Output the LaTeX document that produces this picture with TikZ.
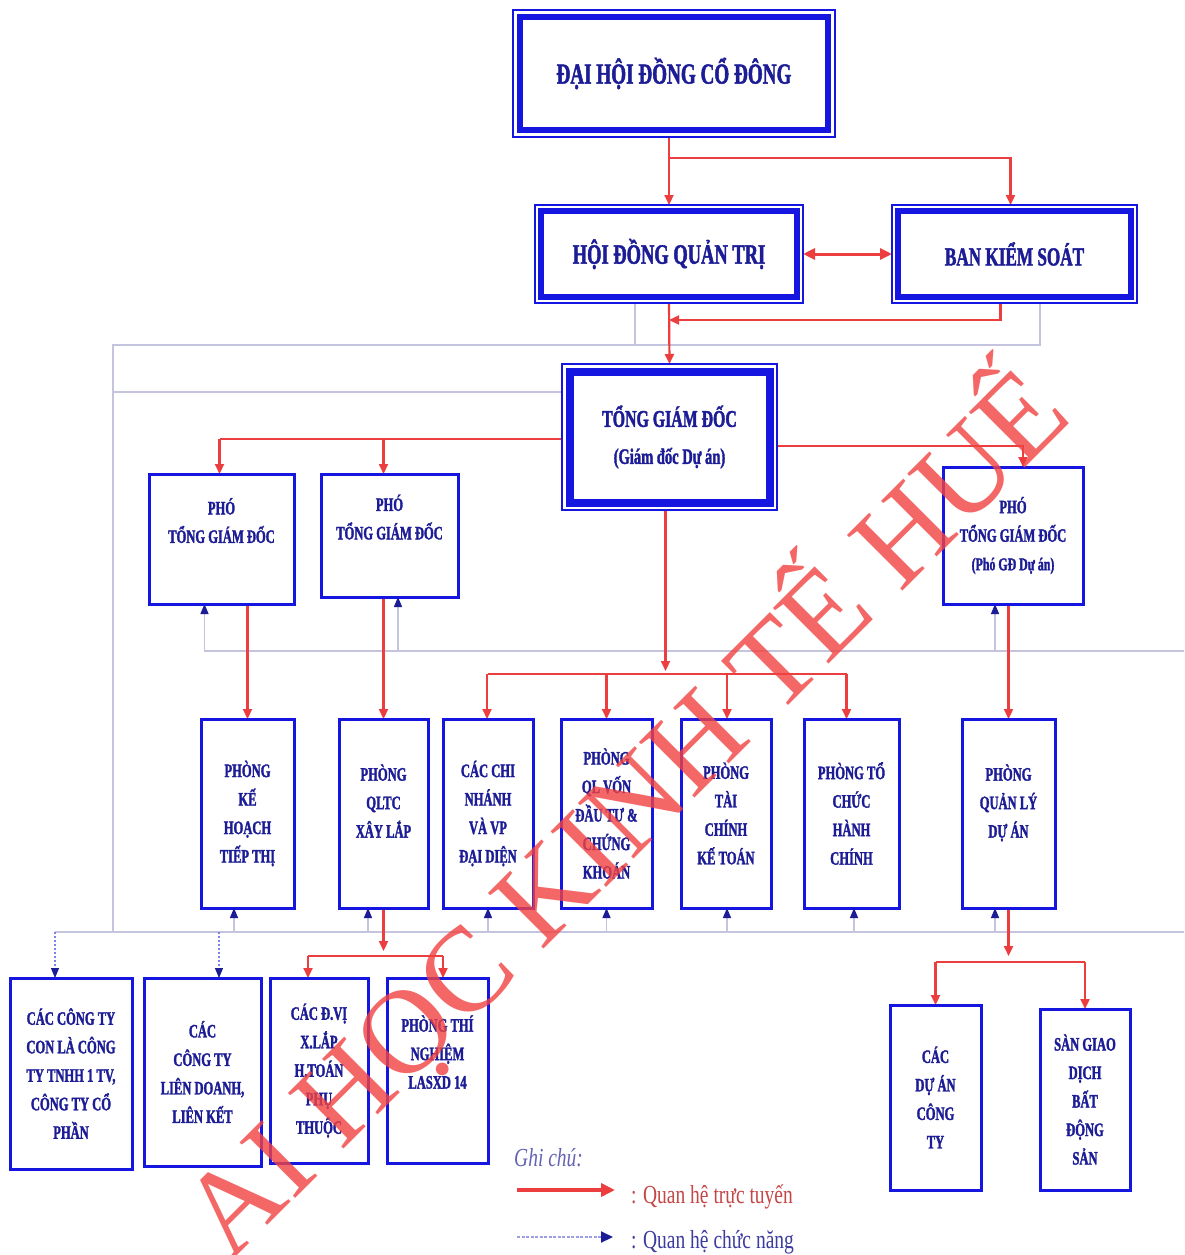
\documentclass[tikz,border=0pt]{standalone}
\usepackage{fontspec}
\setmainfont{Liberation Serif}
\newfontfamily\bxf{Liberation Serif}[BoldFont={Liberation Serif Bold},BoldFeatures={FakeBold=1.6},FakeStretch=0.66]
\newfontfamily\lgf{Liberation Serif}[FakeStretch=0.75]
\newfontfamily\wmf{Liberation Serif}
\usetikzlibrary{arrows.meta,calc}
\pgfdeclarelayer{background}
\pgfdeclarelayer{wmark}
\pgfsetlayers{background,main,wmark}
\definecolor{bxblue}{RGB}{22,22,225}
\definecolor{txblue}{RGB}{28,28,150}
\definecolor{rline}{RGB}{236,62,62}
\definecolor{gline}{RGB}{196,196,222}
\definecolor{wmred}{RGB}{242,66,66}
\definecolor{lgred}{RGB}{196,70,70}
\definecolor{lgblue}{RGB}{60,60,160}
\newcommand\innerframe[3]{\draw[draw=bxblue,line width=#3] ($(#1.north west)+(#2,#2)$) rectangle ($(#1.south east)+(-#2,-#2)$);}
\begin{document}
\begin{tikzpicture}[x=1pt,y=-1pt,
  box/.style={draw=bxblue,line width=3pt,fill=white,outer sep=0pt,inner sep=1pt,align=center,text=txblue,font=\bxf\bfseries\fontsize{19}{28.5}\selectfont},
  dbox/.style={box,line width=1.5pt},
  rl/.style={draw=rline,line width=2.2pt},
  ra/.style={rl,-{Triangle[length=10pt,width=9pt]}},
  gl/.style={draw=gline,line width=1.6pt},
  ba/.style={draw=gline,line width=1.3pt,-{Triangle[length=10pt,width=8pt,color=txblue]}},
  da/.style={draw=bxblue!55,line width=1.1pt,dash pattern=on 2pt off 2pt,-{Triangle[length=10pt,width=8pt,color=txblue]}},
]
\useasboundingbox (0,0) rectangle (1184,1255);

% top boxes
\node[dbox,minimum width=322pt,minimum height=127pt,font=\bxf\bfseries\fontsize{29}{34}\selectfont] (dh) at (674,73.5) {\raisebox{-4pt}{ĐẠI HỘI ĐỒNG CỔ ĐÔNG}};
\innerframe{dh}{7}{6}
\node[dbox,minimum width=268pt,minimum height=98pt,font=\bxf\bfseries\fontsize{28}{34}\selectfont] (hdqt) at (669,254) {HỘI ĐỒNG QUẢN TRỊ};
\innerframe{hdqt}{6}{6}
\node[dbox,minimum width=245pt,minimum height=98pt,font=\bxf\bfseries\fontsize{26}{32}\selectfont] (bks) at (1014.5,254) {\raisebox{-4pt}{BAN KIỂM SOÁT}};
\innerframe{bks}{6}{6}
\node[dbox,minimum width=215pt,minimum height=146pt,font=\bxf\bfseries\fontsize{24}{37}\selectfont] (tgd) at (669.5,437) {TỔNG GIÁM ĐỐC\\{\fontsize{22}{37}\selectfont(Giám đốc Dự án)}};
\innerframe{tgd}{7.5}{8}

% deputies
\node[box,minimum width=145pt,minimum height=130pt] (pho1) at (221.5,539) {PHÓ\\TỔNG GIÁM ĐỐC\\\strut};
\node[box,minimum width=137pt,minimum height=123pt] (pho2) at (389.5,535.5) {PHÓ\\TỔNG GIÁM ĐỐC\\\strut};
\node[box,minimum width=140pt,minimum height=137pt] (pho3) at (1013,535.5) {PHÓ\\TỔNG GIÁM ĐỐC\\{\fontsize{18}{28.5}\selectfont(Phó GĐ Dự án)}};

% middle row
\node[box,minimum width=93pt,minimum height=189pt] (kh) at (247.5,813.5) {PHÒNG\\KẾ\\HOẠCH\\TIẾP THỊ};
\node[box,minimum width=89pt,minimum height=189pt] (qltc) at (383.5,813.5) {PHÒNG\\QLTC\\XÂY LẮP\\[-12pt]\strut};
\node[box,minimum width=90pt,minimum height=189pt] (cn) at (488,813.5) {CÁC CHI\\NHÁNH\\VÀ VP\\ĐẠI DIỆN};
\node[box,minimum width=91pt,minimum height=189pt] (qlv) at (606.5,813.5) {PHÒNG\\QL VỐN\\ĐẦU TƯ \&\\CHỨNG\\KHOÁN};
\node[box,minimum width=90pt,minimum height=189pt] (tckt) at (726,813.5) {PHÒNG\\TÀI\\CHÍNH\\KẾ TOÁN};
\node[box,minimum width=95pt,minimum height=189pt] (tchc) at (851.5,813.5) {PHÒNG TỔ\\CHỨC\\HÀNH\\CHÍNH};
\node[box,minimum width=93pt,minimum height=189pt] (qlda) at (1008.5,813.5) {PHÒNG\\QUẢN LÝ\\DỰ ÁN\\[-12pt]\strut};

% bottom row
\node[box,minimum width=122pt,minimum height=191pt] (ctcon) at (71,1073.5) {CÁC CÔNG TY\\CON LÀ CÔNG\\TY TNHH 1 TV,\\CÔNG TY CỔ\\PHẦN};
\node[box,minimum width=117pt,minimum height=188pt] (ctld) at (202.5,1072) {CÁC\\CÔNG TY\\LIÊN DOANH,\\LIÊN KẾT};
\node[box,minimum width=98pt,minimum height=185pt] (dv) at (319,1070.5) {CÁC Đ.VỊ\\X.LẮP\\H.TOÁN\\PHỤ\\THUỘC};
\node[box,minimum width=101pt,minimum height=185pt] (ptn) at (437.5,1070.5) {PHÒNG THÍ\\NGHIỆM\\LASXD 14\\\strut};
\node[box,minimum width=91pt,minimum height=185pt] (duan) at (935.5,1097.5) {CÁC\\DỰ ÁN\\CÔNG\\TY};
\node[box,minimum width=90pt,minimum height=181pt] (san) at (1085,1099.5) {SÀN GIAO\\DỊCH\\BẤT\\ĐỘNG\\SẢN};

% legend
\node[anchor=base west,inner sep=0pt,text=lgblue!80,font=\lgf\itshape\fontsize{26}{30}\selectfont] (gc) at (514,1166) {Ghi chú:};
\node[anchor=base west,inner sep=0pt,text=lgred,font=\lgf\fontsize{26}{30}\selectfont] (lt1) at (631,1203) {: Quan hệ trực tuyến};
\node[anchor=base west,inner sep=0pt,text=lgblue,font=\lgf\fontsize{26}{30}\selectfont] (lt2) at (631,1248) {: Quan hệ chức năng};
\coordinate (l1a) at (517,1190);
\coordinate (l1b) at (615,1190);
\coordinate (l2a) at (517,1237);
\coordinate (l2b) at (613,1237);

\begin{pgfonlayer}{background}
\fill[white] (0,0) rectangle (1184,1255);
% functional (gray) network
\coordinate (gL1) at (113,345);
\coordinate (gL2) at (113,932);
\coordinate (gbL) at (55,932);
\coordinate (gbR) at (1184,932);
\coordinate (gmL) at (204,651);
\coordinate (gmR) at (1184,651);
\coordinate (gA) at ($(hdqt.south)+(-34,0)$);
\coordinate (gB) at ($(bks.south)+(25.5,0)$);
\coordinate (gT) at ($(tgd.north west)+(0,28)$);
\draw[gl] (gA) -- (gA |- gL1);
\draw[gl] (gB) |- (gL1) -- (gL2);
\draw[gl] (gT) -- (gT -| gL1);
\draw[gl] (gbL) -- (gbR);
\draw[gl] (gmL) -- (gmR);
% functional arrows up
\foreach \n/\o in {pho1/-17,pho2/8.5,pho3/-18}{
  \path ($(\n.south)+(\o,0)$) coordinate (tmp);
  \draw[ba] (tmp |- gmL) -- (tmp);
}
\foreach \n/\o in {kh/-13.5,qltc/-15.5,cn/0,qlv/0,tckt/1,tchc/2.5,qlda/-13.5}{
  \path ($(\n.south)+(\o,0)$) coordinate (tmp);
  \draw[ba] (tmp |- gbL) -- (tmp);
}
\coordinate (d2) at (219,932);
\draw[da] (gbL) -- (gbL |- ctcon.north);
\draw[da] (d2) -- (d2 |- ctld.north);

% line (red) relations
\draw[ra] (dh.south -| hdqt.north) -- (hdqt.north);
\coordinate (j1) at ($(dh.south -| hdqt.north)+(0,21)$);
\coordinate (bkt) at ($(bks.north)+(-4,0)$);
\draw[ra] (j1) -| (bkt);
\draw[draw=rline,line width=3pt,{Triangle[length=12pt,width=11pt]}-{Triangle[length=12pt,width=11pt]}] (hdqt.east) -- (bks.west);
\draw[ra] ($(bks.south)+(-14,0)$) |- ($(hdqt.south)+(0,17)$);
\draw[ra] (hdqt.south) -- (tgd.north);
\coordinate (tgL) at ($(tgd.west)+(0,2)$);
\coordinate (tgR) at ($(tgd.east)+(0,9)$);
\coordinate (p1t) at ($(pho1.north)+(-2,0)$);
\coordinate (p2t) at ($(pho2.north)+(-6,0)$);
\coordinate (p3t) at ($(pho3.north)+(10,0)$);
\draw[rl] (tgL) -- (tgL -| p1t);
\draw[ra] (tgL -| p1t) -- (p1t);
\draw[ra] (tgL -| p2t) -- (p2t);
\draw[ra] (tgR) -| (p3t);
\coordinate (mbus) at ($(tgd.south)+(0,164)$);
\draw[ra] ($(tgd.south)+(-4,0)$) -- ($(mbus)+(-4,-3)$);
\draw[rl] (cn.north |- mbus) -- ($(tchc.north |- mbus)+(-5,0)$);
\foreach \n/\o in {cn/-1,qlv/0,tckt/1,tchc/-5}{
  \path ($(\n.north)+(\o,0)$) coordinate (tmp);
  \draw[ra] (tmp |- mbus) -- (tmp);
}
\draw[ra] (kh.north |- pho1.south) -- (kh.north);
\draw[ra] (qltc.north |- pho2.south) -- (qltc.north);
\draw[ra] (qlda.north |- pho3.south) -- (qlda.north);
% QLTC to lower units
\coordinate (b1) at ($(qltc.south)+(0,48)$);
\coordinate (dvt) at ($(dv.north)+(-11,0)$);
\coordinate (ptnt) at ($(ptn.north)+(5.5,0)$);
\draw[ra] (qltc.south) -- ($(b1)+(0,-5)$);
\draw[rl] (dvt |- b1) -- (ptnt |- b1);
\draw[ra] (dvt |- b1) -- (dvt);
\draw[ra] (ptnt |- b1) -- (ptnt);
% QLDA to lower units
\coordinate (b2) at ($(qlda.south)+(0,54)$);
\draw[ra] (qlda.south) -- ($(b2)+(0,-6)$);
\draw[rl] (duan.north |- b2) -- (san.north |- b2);
\draw[ra] (duan.north |- b2) -- (duan.north);
\draw[ra] (san.north |- b2) -- (san.north);
% legend arrows
\draw[draw=rline,line width=4pt,-{Triangle[length=14pt,width=13pt]}] (l1a) -- (l1b);
\draw[draw=gline!80!blue,line width=2pt,dash pattern=on 3pt off 1.5pt,-{Triangle[length=12pt,width=11pt,color=txblue]}] (l2a) -- (l2b);
\end{pgfonlayer}

\begin{pgfonlayer}{wmark}
\node[rotate=45,text=wmred,opacity=0.8,inner sep=0pt,font=\wmf\fontsize{120}{122}\selectfont] (wmk) at (622,810) {AI HỌC KINH TẾ HUẾ};
\end{pgfonlayer}
\end{tikzpicture}
\end{document}
